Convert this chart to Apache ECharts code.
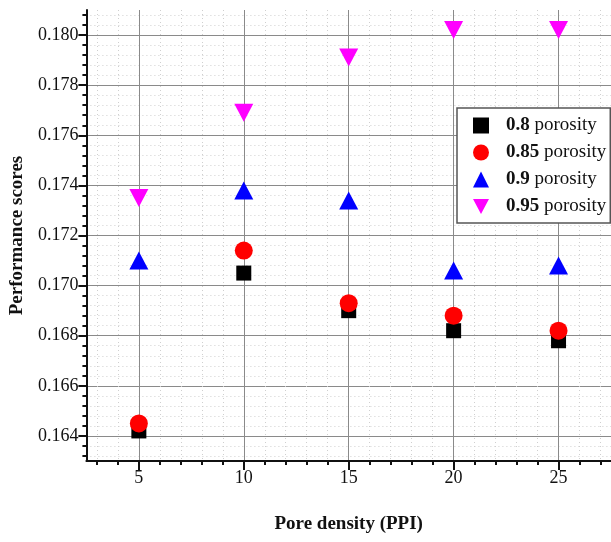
<!DOCTYPE html>
<html>
<head>
<meta charset="utf-8">
<script src="https://cdn.jsdelivr.net/npm/echarts@6/dist/echarts.min.js"></script>
<style>
html, body { margin: 0; padding: 0; background: #fff; }
#chart { width: 611px; height: 542px; }
</style>
</head>
<body>
<div id="chart"></div>
<script>
// data
const poreDensity = [5, 10, 15, 20, 25];
const porosity80 = [0.1642, 0.1705, 0.1690, 0.1682, 0.1678];
const porosity85 = [0.1645, 0.1714, 0.1693, 0.1688, 0.1682];
const porosity90 = [0.1710, 0.1738, 0.1734, 0.1706, 0.1708];
const porosity95 = [0.1735, 0.1769, 0.1791, 0.1802, 0.1802];
const seriesNames = ['0.8', '0.85', '0.9', '0.95'];

const xTicks = [5, 10, 15, 20, 25];
const yTicks = [0.164, 0.166, 0.168, 0.170, 0.172, 0.174, 0.176, 0.178, 0.180];

// minor ticks: every 1 PPI on x, every 0.0004 on y
const xMinor = [];
for (let v = 3; v <= 27; v++) if (v % 5 !== 0) xMinor.push(v);
const yMinor = [];
for (let k = 1632; k <= 1808; k += 4) if (k % 20 !== 0) yMinor.push(k / 10000);

const font = 'Liberation Serif';
const toPoints = arr => poreDensity.map((x, i) => [x, arr[i]]);

const chart = echarts.init(document.getElementById('chart'));

const majorAxis = (ticks, len) => ({
  axisLine: { show: true, onZero: false, lineStyle: { color: '#111', width: 2 } },
  axisTick: { show: true, customValues: ticks, length: len, lineStyle: { color: '#111', width: 2 } },
  axisLabel: { customValues: ticks, color: '#111', fontFamily: font, fontSize: 18 },
  splitLine: { show: true, lineStyle: { color: '#8a8a8a', width: 1 } }
});
const minorAxis = (ticks) => ({
  axisLine: { show: false },
  axisTick: { show: true, customValues: ticks, length: 4, lineStyle: { color: '#111', width: 2 } },
  axisLabel: { show: false },
  splitLine: { show: true, lineStyle: { color: '#cfcfcf', width: 1, type: [1, 3] } }
});

const xMajor = majorAxis(xTicks, 9);
const yMajor = majorAxis(yTicks, 8);
yMajor.axisLabel.formatter = v => v.toFixed(3);

chart.setOption({
  backgroundColor: '#fff',
  animation: false,
  grid: { left: 85, right: -1, top: 10, bottom: 81, containLabel: false },
  xAxis: [
    Object.assign({
      type: 'value', min: 2.5, max: 27.5, position: 'bottom',
      name: 'Pore density (PPI)', nameLocation: 'middle', nameGap: 54,
      nameTextStyle: { fontFamily: font, fontSize: 19, fontWeight: 'bold', color: '#111' }
    }, xMajor),
    Object.assign({ type: 'value', min: 2.5, max: 27.5, position: 'bottom' }, minorAxis(xMinor))
  ],
  yAxis: [
    Object.assign({
      type: 'value', min: 0.163, max: 0.181, position: 'left',
      name: 'Performance scores', nameLocation: 'middle', nameGap: 58,
      nameTextStyle: { fontFamily: font, fontSize: 19, fontWeight: 'bold', color: '#111' }
    }, yMajor),
    Object.assign({ type: 'value', min: 0.163, max: 0.181, position: 'left' }, minorAxis(yMinor))
  ],
  legend: {
    orient: 'vertical',
    left: 457,
    top: 108,
    padding: [8, 4, 7, 16],
    itemWidth: 16,
    itemHeight: 16,
    itemGap: 8,
    backgroundColor: '#fff',
    borderColor: '#555',
    borderWidth: 1.5,
    borderRadius: 0,
    formatter: name => '{b|' + name + '} porosity',
    textStyle: {
      fontFamily: font, fontSize: 19, lineHeight: 19, color: '#111', padding: [0, 0, 0, 12],
      rich: { b: { fontFamily: font, fontSize: 19, lineHeight: 19, fontWeight: 'bold', color: '#111' } }
    },
    data: [
      { name: seriesNames[0], icon: 'rect' },
      { name: seriesNames[1], icon: 'circle' },
      { name: seriesNames[2], icon: 'triangle' },
      { name: seriesNames[3], icon: 'path://M0,0L20,0L10,19Z' }
    ]
  },
  series: [
    {
      name: seriesNames[0], type: 'scatter', symbol: 'rect', symbolSize: 15,
      itemStyle: { color: '#000', opacity: 1 }, data: toPoints(porosity80)
    },
    {
      name: seriesNames[1], type: 'scatter', symbol: 'circle', symbolSize: 18,
      itemStyle: { color: '#ff0000', opacity: 1 }, data: toPoints(porosity85)
    },
    {
      name: seriesNames[2], type: 'scatter', symbol: 'triangle', symbolSize: [19, 18],
      itemStyle: { color: '#0000ff', opacity: 1 }, data: toPoints(porosity90)
    },
    {
      name: seriesNames[3], type: 'scatter', symbol: 'path://M0,0L20,0L10,19Z', symbolSize: [19, 18],
      itemStyle: { color: '#ff00ff', opacity: 1 }, data: toPoints(porosity95)
    }
  ]
});
</script>
</body>
</html>
